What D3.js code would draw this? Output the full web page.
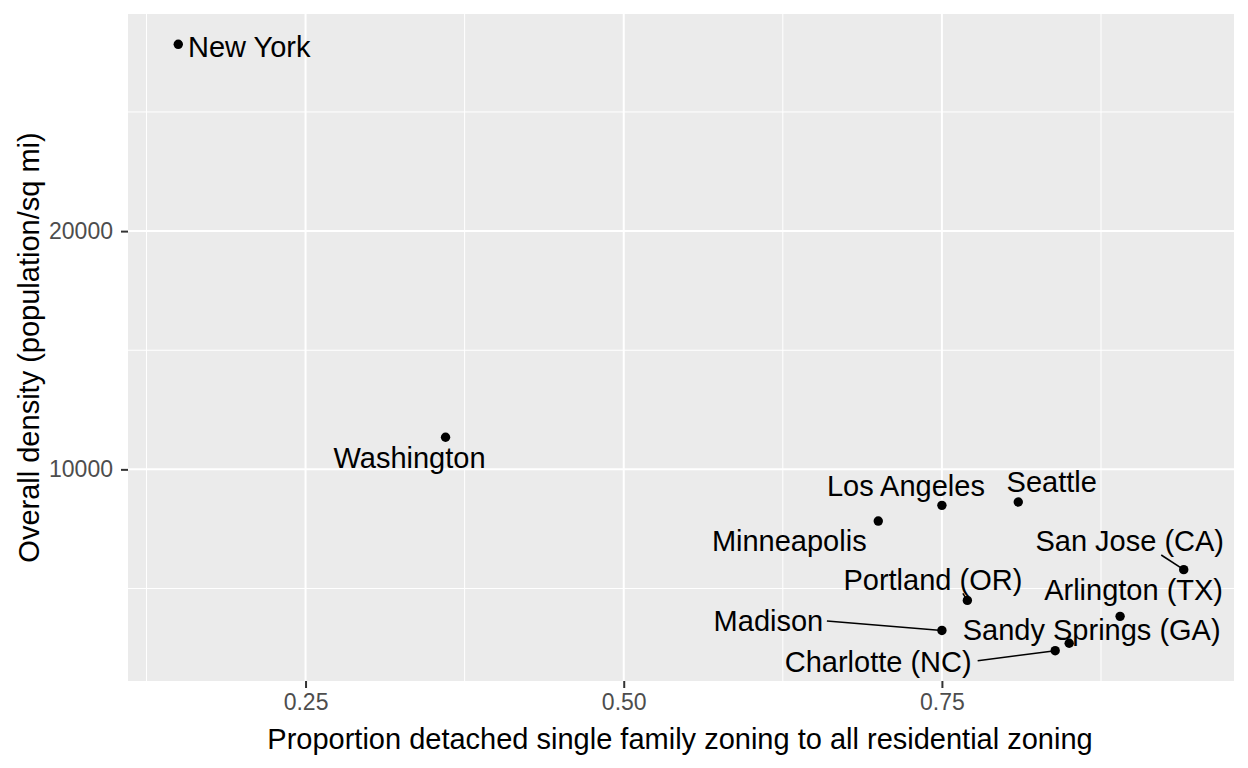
<!DOCTYPE html>
<html>
<head>
<meta charset="utf-8">
<script src="https://cdn.jsdelivr.net/npm/d3@7"></script>
<style>
  html, body { margin: 0; padding: 0; background: #ffffff; }
  svg { display: block; font-family: "Liberation Sans", Arial, sans-serif; }
</style>
</head>
<body>
<svg id="chart" width="1248" height="768"></svg>
<script>
// ---- data ----
const cities = ["New York", "Washington", "Minneapolis", "Los Angeles", "Seattle",
  "San Jose (CA)", "Portland (OR)", "Arlington (TX)", "Madison", "Sandy Springs (GA)", "Charlotte (NC)"];
const propSingleFamily = [0.150, 0.360, 0.700, 0.750, 0.810, 0.940, 0.770, 0.890, 0.750, 0.850, 0.839];
const density = [27840, 11350, 7830, 8490, 8630, 5790, 4500, 3830, 3240, 2700, 2390];

const xTicks = [0.25, 0.5, 0.75];
const xTickLabels = ["0.25", "0.50", "0.75"];
const xMinor = [0.125, 0.375, 0.625, 0.875];
const yTicks = [10000, 20000];
const yTickLabels = ["10000", "20000"];
const yMinor = [5000, 15000, 25000];

const xTitle = "Proportion detached single family zoning to all residential zoning";
const yTitle = "Overall density (population/sq mi)";

// ---- layout (repelled label placement, px relative to the point) ----
// [dx, dy] = label centre / baseline offset; seg = segment start offset or null
const labelLayout = [
  { dx: 71, dy: 12.5, seg: null },
  { dx: -36, dy: 30.7, seg: null },
  { dx: -89, dy: 29.7, seg: null },
  { dx: -36, dy: -9.3, seg: null },
  { dx: 33.5, dy: -9.7, seg: null },
  { dx: -54, dy: -19, seg: [-22.5, -14.7] },
  { dx: -34.5, dy: -10.7, seg: [-4.5, -7] },
  { dx: 13.5, dy: -16.7, seg: null },
  { dx: -173.5, dy: 1, seg: [-115, -9.4] },
  { dx: 22.5, dy: -3.7, seg: null },
  { dx: -177, dy: 21.7, seg: [-77.5, 10] }
];

const panel = { left: 128, right: 1234, top: 14, bottom: 681 };

function expand(arr) {
  const lo = d3.min(arr), hi = d3.max(arr), r = hi - lo;
  return [lo - 0.05 * r, hi + 0.05 * r];
}

const x = d3.scaleLinear().domain(expand(propSingleFamily)).range([panel.left, panel.right]);
const y = d3.scaleLinear().domain(expand(density)).range([panel.bottom, panel.top]);

const svg = d3.select("#chart");

// panel background
svg.append("rect")
  .attr("x", panel.left).attr("y", panel.top)
  .attr("width", panel.right - panel.left).attr("height", panel.bottom - panel.top)
  .attr("fill", "#EBEBEB");

const grid = svg.append("g");
// minor grid
grid.selectAll(".xminor").data(xMinor).join("line")
  .attr("x1", d => x(d)).attr("x2", d => x(d))
  .attr("y1", panel.top).attr("y2", panel.bottom)
  .attr("stroke", "#ffffff").attr("stroke-width", 1);
grid.selectAll(".yminor").data(yMinor).join("line")
  .attr("y1", d => y(d)).attr("y2", d => y(d))
  .attr("x1", panel.left).attr("x2", panel.right)
  .attr("stroke", "#ffffff").attr("stroke-width", 1);
// major grid
grid.selectAll(".xmajor").data(xTicks).join("line")
  .attr("x1", d => x(d)).attr("x2", d => x(d))
  .attr("y1", panel.top).attr("y2", panel.bottom)
  .attr("stroke", "#ffffff").attr("stroke-width", 2);
grid.selectAll(".ymajor").data(yTicks).join("line")
  .attr("y1", d => y(d)).attr("y2", d => y(d))
  .attr("x1", panel.left).attr("x2", panel.right)
  .attr("stroke", "#ffffff").attr("stroke-width", 2);

// axes
const xAxis = d3.axisBottom(x).tickValues(xTicks)
  .tickFormat((d, i) => xTickLabels[i]).tickSize(7).tickPadding(6);
const gx = svg.append("g").attr("transform", `translate(0,${panel.bottom})`).call(xAxis);
gx.select(".domain").remove();
gx.selectAll(".tick line").attr("stroke", "#333333").attr("stroke-width", 2);
gx.selectAll(".tick text").attr("fill", "#4D4D4D")
  .style("font-family", "'Liberation Sans', Arial, sans-serif").style("font-size", "23px");

const yAxis = d3.axisLeft(y).tickValues(yTicks)
  .tickFormat((d, i) => yTickLabels[i]).tickSize(7).tickPadding(8);
const gy = svg.append("g").attr("transform", `translate(${panel.left},0)`).call(yAxis);
gy.select(".domain").remove();
gy.selectAll(".tick line").attr("stroke", "#333333").attr("stroke-width", 2);
gy.selectAll(".tick text").attr("fill", "#4D4D4D")
  .style("font-family", "'Liberation Sans', Arial, sans-serif").style("font-size", "23px");

// axis titles
svg.append("text")
  .attr("x", (panel.left + panel.right) / 2 - 1).attr("y", 748.5)
  .attr("text-anchor", "middle").attr("fill", "#000")
  .style("font-size", "29px").text(xTitle);
svg.append("text")
  .attr("transform", `translate(39,${(panel.top + panel.bottom) / 2}) rotate(-90)`)
  .attr("text-anchor", "middle").attr("fill", "#000")
  .style("font-size", "29px").text(yTitle);

const pts = cities.map((c, i) => ({ name: c, px: x(propSingleFamily[i]), py: y(density[i]), lay: labelLayout[i] }));

// segments
svg.append("g").selectAll("line").data(pts.filter(d => d.lay.seg)).join("line")
  .attr("x1", d => d.px + d.lay.seg[0]).attr("y1", d => d.py + d.lay.seg[1])
  .attr("x2", d => d.px).attr("y2", d => d.py)
  .attr("stroke", "#000").attr("stroke-width", 1.6);

// points
svg.append("g").selectAll("circle").data(pts).join("circle")
  .attr("cx", d => d.px).attr("cy", d => d.py).attr("r", 4.7).attr("fill", "#000");

// labels
svg.append("g").selectAll("text").data(pts).join("text")
  .attr("x", d => d.px + d.lay.dx).attr("y", d => d.py + d.lay.dy)
  .attr("text-anchor", "middle").attr("fill", "#000")
  .style("font-size", "29px").text(d => d.name);
</script>
</body>
</html>
